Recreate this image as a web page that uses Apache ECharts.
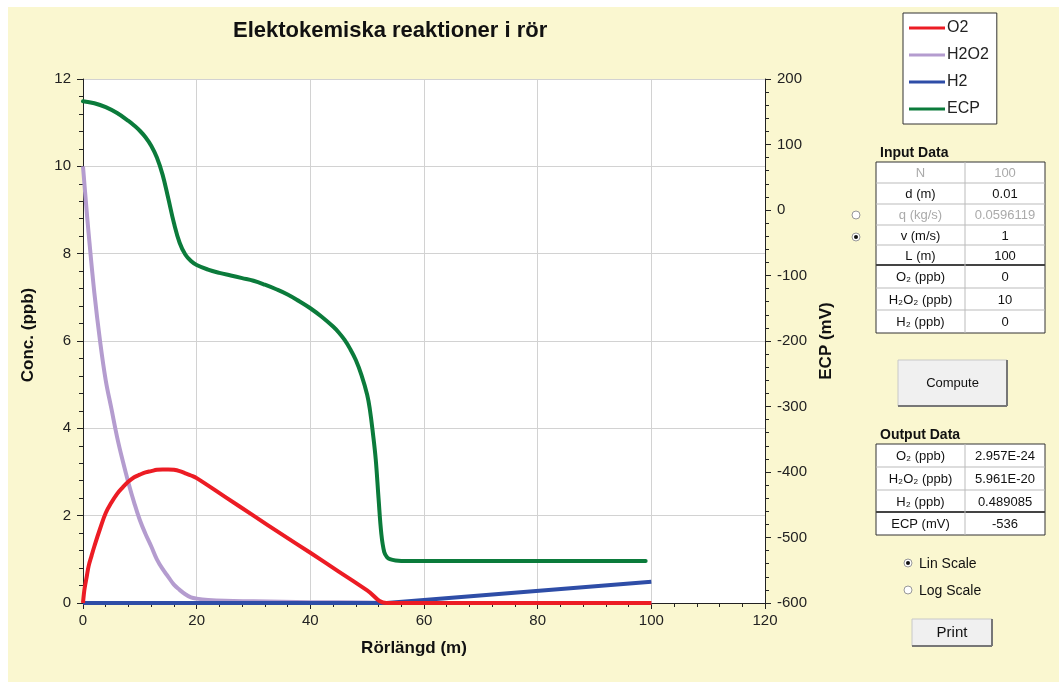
<!DOCTYPE html>
<html>
<head>
<meta charset="utf-8">
<script src="https://cdn.jsdelivr.net/npm/echarts@6/dist/echarts.min.js"></script>
<style>html,body{margin:0;padding:0;background:#fff}#c{width:1059px;height:682px}</style>
</head>
<body>
<div id="c"></div>
<script>
// ---- data ----
const seriesNames = ['O2', 'H2O2', 'H2', 'ECP'];

const o2X = [0, 0.15, 0.3, 0.65, 1, 1.5, 2, 3, 4, 5, 6, 7, 8, 9, 10, 11, 12, 13, 14, 15, 16, 17, 18, 19, 20, 25, 30, 35, 40, 45, 50, 53.4, 60, 70, 80, 90, 100];
const o2Y = [0, 0.2, 0.35, 0.6, 0.85, 1.08, 1.3, 1.7, 2.06, 2.3, 2.5, 2.65, 2.78, 2.88, 2.94, 2.99, 3.02, 3.05, 3.06, 3.06, 3.05, 3.02, 2.97, 2.92, 2.86, 2.43, 2.0, 1.57, 1.15, 0.72, 0.29, 0, 0, 0, 0, 0, 0];

const h2o2X = [0, 0.5, 1, 2, 3, 4, 5, 6, 7, 8, 9, 10, 11, 12, 13, 14, 15, 16, 17, 18, 19, 20, 22, 25, 30, 40, 50, 54, 100];
const h2o2Y = [10, 9.2, 8.45, 7.1, 6.0, 5.1, 4.45, 3.8, 3.25, 2.75, 2.3, 1.9, 1.58, 1.3, 1.0, 0.78, 0.6, 0.42, 0.3, 0.2, 0.13, 0.1, 0.07, 0.05, 0.04, 0.02, 0.01, 0, 0];

const h2X = [0, 53.4, 100];
const h2Y = [0, 0, 0.489];

const ecpX = [0, 2, 4, 6, 8, 9, 10, 11, 12, 13, 14, 15, 16, 17, 18, 19, 20, 22, 24, 26, 28, 30, 32, 34, 36, 38, 40, 42, 44, 45, 46, 47, 48, 49, 50, 50.5, 51, 51.5, 52, 52.5, 53, 53.5, 54, 55, 57, 60, 70, 80, 90, 99];
const ecpY = [166, 163, 157, 148, 136, 129, 121, 111, 98, 80, 54, 18, -20, -50, -68, -78, -84, -91, -96, -100, -104, -108, -114, -121, -129, -139, -150, -163, -178, -187, -198, -212, -229, -252, -282, -306, -340, -380, -440, -495, -522, -530, -533, -535, -536, -536, -536, -536, -536, -536];

const xTicks = {min: 0, max: 120, step: 20};
const concTicks = {min: 0, max: 12, step: 2};
const ecpTicks = {min: -600, max: 200, step: 100};

const inputRows = [
  ['N', '100', true],
  ['d (m)', '0.01', false],
  ['q (kg/s)', '0.0596119', true],
  ['v (m/s)', '1', false],
  ['L (m)', '100', false],
  ['O\u2082 (ppb)', '0', false],
  ['H\u2082O\u2082 (ppb)', '10', false],
  ['H\u2082 (ppb)', '0', false]
];
const outputRows = [
  ['O\u2082 (ppb)', '2.957E-24'],
  ['H\u2082O\u2082 (ppb)', '5.961E-20'],
  ['H\u2082 (ppb)', '0.489085'],
  ['ECP (mV)', '-536']
];

const colors = {O2: '#EC1C24', H2O2: '#B49CCF', H2: '#2E4DA7', ECP: '#0B7B3B'};

function pairs(xs, ys) { return xs.map((x, i) => [x, ys[i]]); }

// ---- panel graphics ----
const FONT = 'Liberation Sans, Arial, sans-serif';
const g = [];
g.push({type: 'rect', shape: {x: 0, y: 0, width: 1059, height: 7}, style: {fill: '#fff'}, silent: true});
g.push({type: 'rect', shape: {x: 0, y: 0, width: 8, height: 682}, style: {fill: '#fff'}, silent: true});

function table(top, bounds, rows, thickIdx, title) {
  const L = 876, R = 1045, M = 965;
  g.push({type: 'text', style: {text: title, x: 880, y: top - 9, font: 'bold 14px ' + FONT, fill: '#111', textAlign: 'left', textVerticalAlign: 'middle'}});
  g.push({type: 'rect', shape: {x: L, y: bounds[0], width: R - L, height: bounds[bounds.length - 1] - bounds[0]}, style: {fill: '#fff', stroke: '#333', lineWidth: 1}});
  for (let i = 1; i < bounds.length - 1; i++) {
    const thick = i === thickIdx;
    g.push({type: 'line', shape: {x1: L, y1: bounds[i], x2: R, y2: bounds[i]}, style: {stroke: thick ? '#444' : '#bbb', lineWidth: thick ? 2 : 1}});
  }
  g.push({type: 'line', shape: {x1: M, y1: bounds[0], x2: M, y2: bounds[bounds.length - 1]}, style: {stroke: '#bbb', lineWidth: 1}});
  rows.forEach((r, i) => {
    const cy = (bounds[i] + bounds[i + 1]) / 2 + 1;
    const col = r[2] ? '#aaa' : '#111';
    g.push({type: 'text', style: {text: r[0], x: (L + M) / 2, y: cy, font: '13px ' + FONT, fill: col, textAlign: 'center', textVerticalAlign: 'middle'}});
    g.push({type: 'text', style: {text: r[1], x: (M + R) / 2, y: cy, font: '13px ' + FONT, fill: col, textAlign: 'center', textVerticalAlign: 'middle'}});
  });
}
table(162, [162, 183, 204, 225, 245, 265, 288, 310, 333], inputRows, 5, 'Input Data');
table(444, [444, 467, 490, 512, 535], outputRows, 3, 'Output Data');

function radio(cx, cy, on) {
  g.push({type: 'circle', shape: {cx: cx, cy: cy, r: 4}, style: {fill: '#fff', stroke: '#999', lineWidth: 1}});
  if (on) g.push({type: 'circle', shape: {cx: cx, cy: cy, r: 2}, style: {fill: '#111'}});
}
radio(856, 215, false);
radio(856, 237, true);
radio(908, 563, true);
radio(908, 590, false);
g.push({type: 'text', style: {text: 'Lin Scale', x: 919, y: 564, font: '14px ' + FONT, fill: '#111', textAlign: 'left', textVerticalAlign: 'middle'}});
g.push({type: 'text', style: {text: 'Log Scale', x: 919, y: 591, font: '14px ' + FONT, fill: '#111', textAlign: 'left', textVerticalAlign: 'middle'}});

function button(x, y, w, h, label, fs) {
  g.push({type: 'rect', shape: {x: x, y: y, width: w, height: h}, style: {fill: '#F0F0F0', stroke: '#c8c8c8', lineWidth: 1}});
  g.push({type: 'line', shape: {x1: x, y1: y + h, x2: x + w, y2: y + h}, style: {stroke: '#777', lineWidth: 2}});
  g.push({type: 'line', shape: {x1: x + w, y1: y, x2: x + w, y2: y + h}, style: {stroke: '#777', lineWidth: 2}});
  g.push({type: 'text', style: {text: label, x: x + w / 2, y: y + h / 2, font: fs + 'px ' + FONT, fill: '#111', textAlign: 'center', textVerticalAlign: 'middle'}});
}
button(898, 360, 109, 46, 'Compute', 13);
button(912, 619, 80, 27, 'Print', 15);

// ---- chart ----
const chart = echarts.init(document.getElementById('c'), null, {renderer: 'canvas'});
const axisLabelStyle = {fontSize: 15, color: '#222', fontFamily: FONT};
const nameStyle = {fontSize: 17, fontWeight: 'bold', color: '#111', fontFamily: FONT};

chart.setOption({
  backgroundColor: '#FAF7D0',
  animation: false,
  title: {
    text: 'Elektokemiska reaktioner i rör',
    left: 228, top: 15,
    textStyle: {fontSize: 22, fontWeight: 'bold', color: '#111', fontFamily: FONT}
  },
  legend: {
    data: seriesNames,
    orient: 'vertical',
    left: 903, top: 13,
    padding: [6, 8, 6, 6],
    itemGap: 9,
    itemWidth: 36, itemHeight: 3,
    icon: 'rect',
    backgroundColor: '#fff',
    borderColor: '#333', borderWidth: 1,
    textStyle: {fontSize: 16, color: '#222', fontFamily: FONT, lineHeight: 18, padding: [0, 0, 0, -3]}
  },
  grid: {left: 83, top: 79, width: 682, height: 524, show: true, backgroundColor: '#fff', borderWidth: 0},
  xAxis: {
    type: 'value', min: xTicks.min, max: xTicks.max, interval: xTicks.step,
    name: 'Rörlängd (m)', nameLocation: 'middle', nameGap: 37,
    nameTextStyle: Object.assign({padding: [0, 20, 0, 0]}, nameStyle),
    axisLine: {show: true, onZero: false, lineStyle: {color: '#222', width: 1}},
    axisTick: {show: true, length: 6, lineStyle: {color: '#222'}},
    minorTick: {show: true, splitNumber: 5, length: 4, lineStyle: {color: '#222'}},
    splitLine: {show: true, lineStyle: {color: '#d2d2d2', width: 1}},
    axisLabel: Object.assign({margin: 10}, axisLabelStyle)
  },
  yAxis: [
    {
      type: 'value', position: 'left', min: concTicks.min, max: concTicks.max, interval: concTicks.step,
      name: 'Conc. (ppb)', nameLocation: 'middle', nameGap: 46, nameRotate: 90,
      nameTextStyle: Object.assign({padding: [0, 0, 0, 12]}, nameStyle),
      axisLine: {show: true, onZero: false, lineStyle: {color: '#222', width: 1}},
      axisTick: {show: true, length: 6, lineStyle: {color: '#222'}},
      minorTick: {show: true, splitNumber: 5, length: 4, lineStyle: {color: '#222'}},
      splitLine: {show: true, lineStyle: {color: '#d2d2d2', width: 1}},
      axisLabel: Object.assign({margin: 12}, axisLabelStyle)
    },
    {
      type: 'value', position: 'right', min: ecpTicks.min, max: ecpTicks.max, interval: ecpTicks.step,
      name: 'ECP (mV)', nameLocation: 'middle', nameGap: 49, nameRotate: 90,
      nameTextStyle: nameStyle,
      axisLine: {show: true, onZero: false, lineStyle: {color: '#222', width: 1}},
      axisTick: {show: true, length: 6, lineStyle: {color: '#222'}},
      minorTick: {show: true, splitNumber: 5, length: 4, lineStyle: {color: '#222'}},
      splitLine: {show: false},
      axisLabel: Object.assign({margin: 12}, axisLabelStyle)
    }
  ],
  graphic: {elements: g},
  series: [
    {name: 'H2O2', type: 'line', data: pairs(h2o2X, h2o2Y), showSymbol: false, smooth: 0.4,
     lineStyle: {color: colors.H2O2, width: 4, join: 'round'}, itemStyle: {color: colors.H2O2}, z: 2},
    {name: 'H2', type: 'line', data: pairs(h2X, h2Y), showSymbol: false,
     lineStyle: {color: colors.H2, width: 4}, itemStyle: {color: colors.H2}, z: 3},
    {name: 'O2', type: 'line', data: pairs(o2X, o2Y), showSymbol: false, smooth: 0.4,
     lineStyle: {color: colors.O2, width: 4, join: 'round'}, itemStyle: {color: colors.O2}, z: 4},
    {name: 'ECP', type: 'line', yAxisIndex: 1, data: pairs(ecpX, ecpY), showSymbol: false, smooth: 0.4,
     lineStyle: {color: colors.ECP, width: 4, cap: 'round', join: 'round'}, itemStyle: {color: colors.ECP}, z: 5}
  ]
});
</script>
</body>
</html>
